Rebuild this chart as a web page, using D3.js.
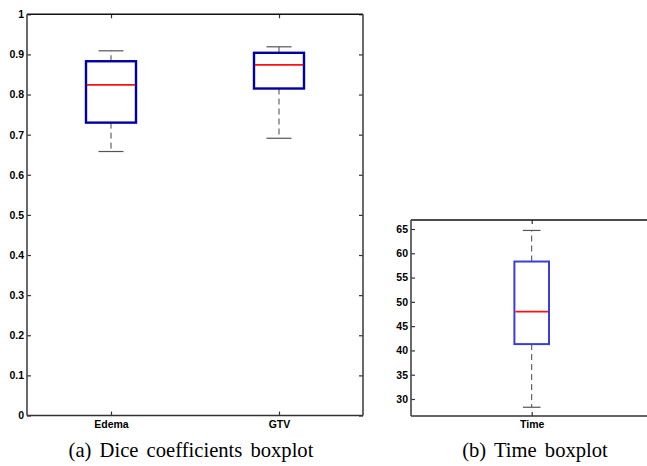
<!DOCTYPE html>
<html><head><meta charset="utf-8">
<script src="https://cdn.jsdelivr.net/npm/d3@7"></script>
<style>
body{margin:0;background:#fff;}
svg{display:block;}
.tick text{font-family:"Liberation Sans",Arial,sans-serif;font-size:10px;fill:#000;}
.cap{font-family:"Liberation Serif","Times New Roman",serif;font-size:20.6px;fill:#000;}
</style></head>
<body>
<svg id="c" width="647" height="466"></svg>
<script>
// Panel (a): Dice coefficients
const diceCategories = ["Edema", "GTV"];
const diceWhiskerLow = [0.658, 0.691];
const diceQ1 = [0.730, 0.815];
const diceMedian = [0.824, 0.874];
const diceQ3 = [0.883, 0.904];
const diceWhiskerHigh = [0.909, 0.919];
const diceTicks = [0, 0.1, 0.2, 0.3, 0.4, 0.5, 0.6, 0.7, 0.8, 0.9, 1];

// Panel (b): Time
const timeCategories = ["Time"];
const timeWhiskerLow = [28.3];
const timeQ1 = [41.3];
const timeMedian = [48.0];
const timeQ3 = [58.3];
const timeWhiskerHigh = [64.7];
const timeTicks = [30, 35, 40, 45, 50, 55, 60, 65];

const svg = d3.select("#c");

function panel(o) {
  const g = svg.append("g");
  const x = d3.scalePoint().domain(o.cats).range([o.x0, o.x1]).padding(0.5);
  const y = d3.scaleLinear().domain(o.yDomain).range([o.y1, o.y0]);
  const axColor = "#333";
  const fmt = o.fmt;
  const ax = g.append("g").attr("transform", `translate(${o.x0},0)`)
    .call(d3.axisLeft(y).tickValues(o.ticks).tickFormat(fmt).tickSizeInner(-4).tickSizeOuter(0).tickPadding(3));
  const axr = g.append("g").attr("transform", `translate(${o.x1},0)`)
    .call(d3.axisRight(y).tickValues(o.ticks).tickFormat("").tickSizeInner(-4).tickSizeOuter(0));
  const axb = g.append("g").attr("transform", `translate(0,${o.y1})`)
    .call(d3.axisBottom(x).tickSizeInner(-4).tickSizeOuter(0).tickPadding(5));
  const axt = g.append("g").attr("transform", `translate(0,${o.y0})`)
    .call(d3.axisTop(x).tickFormat("").tickSizeInner(-4).tickSizeOuter(0));
  [ax, axr, axb, axt].forEach(a => {
    a.select(".domain").remove();
    a.selectAll(".tick line").attr("stroke", axColor).attr("stroke-width", 1.2);
  });
  ax.selectAll(".tick text").attr("font-weight", "bold").style("font-size", "10.5px");
  axb.selectAll(".tick text").attr("font-weight", "bold").style("font-size", "10.5px");
  g.append("line").attr("x1", o.x0).attr("x2", o.x1).attr("y1", o.y0).attr("y2", o.y0).attr("stroke", "#111").attr("stroke-width", 1.4);
  g.append("line").attr("x1", o.x0).attr("x2", o.x1).attr("y1", o.y1).attr("y2", o.y1).attr("stroke", axColor).attr("stroke-width", 1.6);
  g.append("line").attr("x1", o.x0).attr("x2", o.x0).attr("y1", o.y0).attr("y2", o.y1).attr("stroke", "#444").attr("stroke-width", 1.6);
  g.append("line").attr("x1", o.x1).attr("x2", o.x1).attr("y1", o.y0).attr("y2", o.y1).attr("stroke", "#444").attr("stroke-width", 1.6);

  const data = o.cats.map((c, i) => ({c, lo: o.lo[i], q1: o.q1[i], med: o.med[i], q3: o.q3[i], hi: o.hi[i]}));
  const bw = o.boxW, cw = o.capW;
  const b = g.selectAll(".box").data(data).enter().append("g");
  b.append("line").attr("x1", d => x(d.c)).attr("x2", d => x(d.c))
    .attr("y1", d => y(d.q3)).attr("y2", d => y(d.hi))
    .attr("stroke", "#444").attr("stroke-width", 1).attr("stroke-dasharray", "6,4");
  b.append("line").attr("x1", d => x(d.c)).attr("x2", d => x(d.c))
    .attr("y1", d => y(d.q1)).attr("y2", d => y(d.lo))
    .attr("stroke", "#444").attr("stroke-width", 1).attr("stroke-dasharray", "6,4");
  ["lo", "hi"].forEach(k => {
    b.append("line").attr("x1", d => x(d.c) - cw / 2).attr("x2", d => x(d.c) + cw / 2)
      .attr("y1", d => y(d[k])).attr("y2", d => y(d[k]))
      .attr("stroke", "#555").attr("stroke-width", 1.2);
  });
  b.append("rect").attr("x", d => x(d.c) - bw / 2).attr("width", bw)
    .attr("y", d => y(d.q3)).attr("height", d => y(d.q1) - y(d.q3))
    .attr("fill", "none").attr("stroke", o.boxColor).attr("stroke-width", o.boxStroke);
  b.append("line").attr("x1", d => x(d.c) - bw / 2 + 1).attr("x2", d => x(d.c) + bw / 2 - 1)
    .attr("y1", d => y(d.med)).attr("y2", d => y(d.med))
    .attr("stroke", "#ff1010").attr("stroke-width", 1.8);
  g.append("text").attr("class", "cap").attr("x", o.capX).attr("y", 457)
    .attr("text-anchor", "middle").attr("word-spacing", "3px").text(o.caption);
}

panel({
  cats: diceCategories, lo: diceWhiskerLow, q1: diceQ1, med: diceMedian, q3: diceQ3, hi: diceWhiskerHigh,
  ticks: diceTicks, fmt: d => d3.format("")(d),
  x0: 27, x1: 363, y0: 14.3, y1: 415.5, yDomain: [0, 1],
  boxW: 50, capW: 25, boxColor: "#0000a8", boxStroke: 2.4,
  caption: "(a) Dice coefficients boxplot", capX: 191
});
panel({
  cats: timeCategories, lo: timeWhiskerLow, q1: timeQ1, med: timeMedian, q3: timeQ3, hi: timeWhiskerHigh,
  ticks: timeTicks, fmt: d => d,
  x0: 411, x1: 652.4, y0: 220, y1: 416, yDomain: [26.5, 66.85],
  boxW: 34.6, capW: 17.7, boxColor: "#3c3cdc", boxStroke: 2,
  caption: "(b) Time boxplot", capX: 535
});
</script>
</body></html>
